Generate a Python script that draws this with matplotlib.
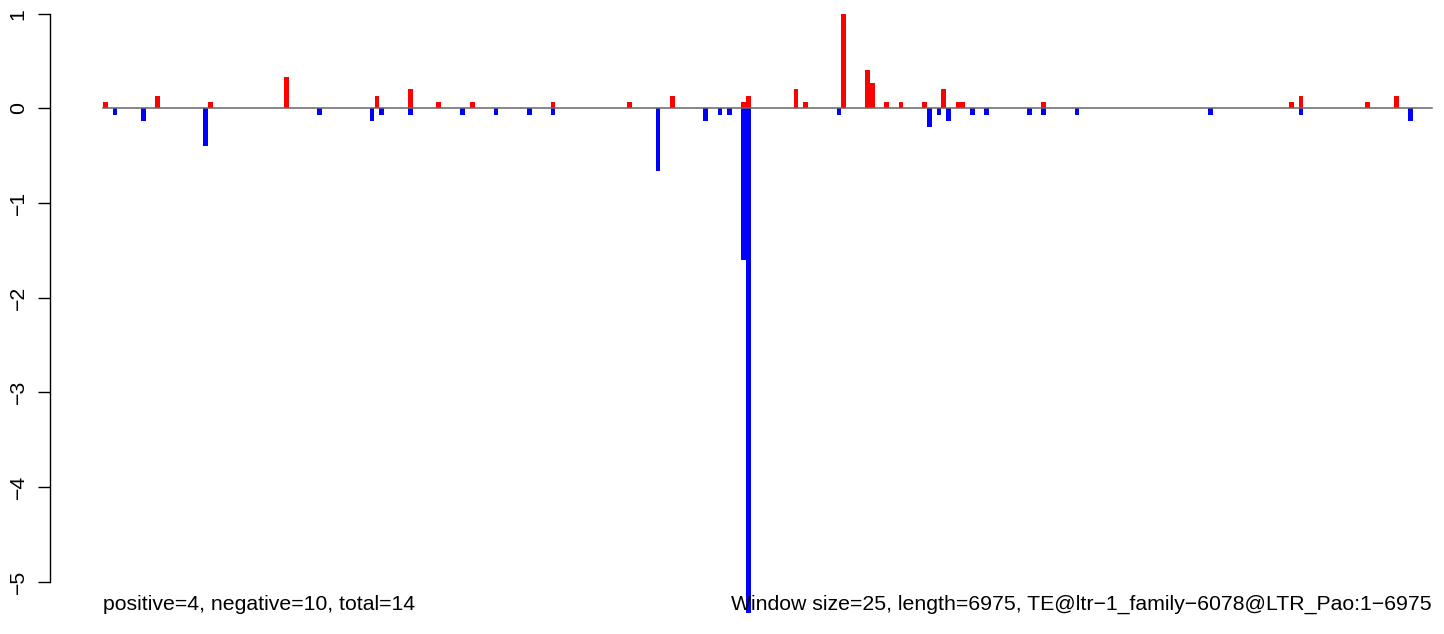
import numpy as np
import matplotlib
matplotlib.use("Agg")
import matplotlib.pyplot as plt

plt.rcParams['font.family'] = ['Liberation Sans', 'DejaVu Sans']

# window size / sequence length
win = 25
seq_len = 6975

# window index (0-based) and value of positive (red) windows
pos_win = [0, 11, 22, 38, 57, 64, 70, 77, 94, 110, 119, 134, 135, 145, 147,
           155, 160, 161, 164, 167, 172, 176, 179, 180, 197, 249, 251, 265, 271]
pos_val = [0.067, 0.133, 0.067, 0.333, 0.133, 0.2, 0.067, 0.067, 0.067, 0.067,
           0.133, 0.067, 0.133, 0.2, 0.067, 1.0, 0.4, 0.267, 0.067, 0.067,
           0.067, 0.2, 0.067, 0.067, 0.067, 0.067, 0.133, 0.067, 0.133]

# window index and value of negative (blue) windows
neg_win = [2, 8, 21, 45, 56, 58, 64, 75, 82, 89, 94, 116, 126, 129, 131, 134,
           135, 154, 173, 175, 177, 182, 185, 194, 197, 204, 232, 251, 274]
neg_val = [-0.067, -0.133, -0.4, -0.067, -0.133, -0.067, -0.067, -0.067,
           -0.067, -0.067, -0.067, -0.667, -0.133, -0.067, -0.067, -1.6,
           -5.333, -0.067, -0.2, -0.067, -0.133, -0.067, -0.067, -0.067,
           -0.067, -0.067, -0.067, -0.067, -0.133]

yticks = [-5, -4, -3, -2, -1, 0, 1]
left_text = "positive=4, negative=10, total=14"
right_text = "Window size=25, length=6975, TE@ltr\u22121_family\u22126078@LTR_Pao:1\u22126975"

W, H = 1444, 634
fig = plt.figure(figsize=(W / 100, H / 100), dpi=100)

# pixel layout: data x=0 at px 103, x=seq_len at px 1432; y=0 at px 108.3, 94.67 px per unit
px_per_bp = (1432 - 103) / seq_len
px_per_unit = 94.67
ax_left = 50
ax = fig.add_axes([ax_left / W, 0, (W - ax_left) / W, 1])
ax.set_xlim((ax_left - 103) / px_per_bp, (W - 103) / px_per_bp)
ax.set_ylim(-(H - 108.3) / px_per_unit, 108.3 / px_per_unit)

pos_x = np.array(pos_win) * win + win / 2
neg_x = np.array(neg_win) * win + win / 2
ax.bar(pos_x, pos_val, width=win * 0.98, color='#ff0000', linewidth=0)
ax.bar(neg_x, neg_val, width=win * 0.98, color='#0000ff', linewidth=0)
ax.plot([0, seq_len], [0, 0], color='#666666', lw=1.1, zorder=3)

for s in ['top', 'right', 'bottom']:
    ax.spines[s].set_visible(False)
ax.spines['left'].set_bounds(yticks[0], yticks[-1])
ax.spines['left'].set_linewidth(1.0)
ax.set_xticks([])
ax.set_yticks(yticks)
ax.set_yticklabels(['\u2212%d' % -t if t < 0 else str(t) for t in yticks],
                   rotation=90, va='center')
ax.tick_params(axis='y', length=9, width=1.0, pad=7, labelsize=15.3)

ax.text(0, -5.3, left_text, ha='left', va='baseline', fontsize=15.3)
ax.text(seq_len, -5.3, right_text, ha='right', va='baseline', fontsize=15.3)

fig.savefig("out.png", dpi=100)
